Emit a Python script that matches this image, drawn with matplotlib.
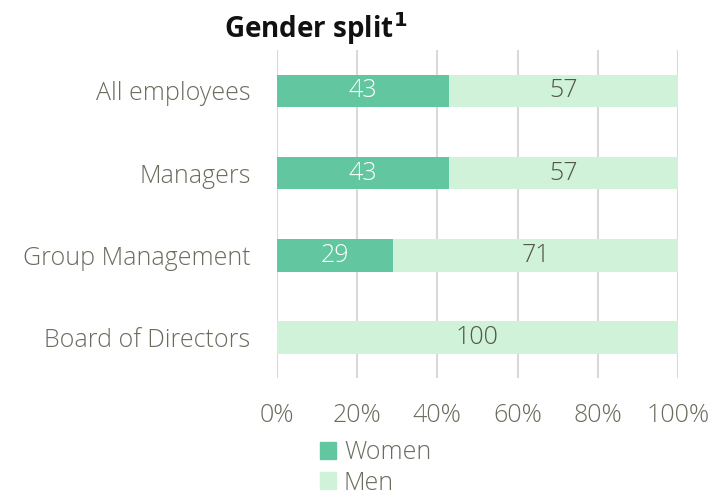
import matplotlib
matplotlib.use("Agg")
from matplotlib import pyplot as plt
from matplotlib.patches import Patch

# data
categories = ["All employees", "Managers", "Group Management", "Board of Directors"]
women = [43, 43, 29, 0]
men = [57, 57, 71, 100]
ticks = [0, 20, 40, 60, 80, 100]
tick_labels = ["0%", "20%", "40%", "60%", "80%", "100%"]

c_women = "#62c6a0"
c_men = "#cff2d9"
c_text = "#6b6b5e"

plt.rcParams["font.family"] = ["Open Sans", "DejaVu Sans"]

fig = plt.figure(figsize=(7.1, 4.99), dpi=100)
ax = fig.add_axes([0.390, 0.242, 0.565, 0.658])

y = range(len(categories))
ax.barh(y, women, height=0.4, color=c_women, zorder=2)
ax.barh(y, men, left=women, height=0.4, color=c_men, zorder=2)

# value labels
for i in y:
    if women[i] > 0:
        ax.text(women[i] / 2, i, str(women[i]), ha="center", va="center",
                color="white", fontsize=18, fontweight="light")
    if men[i] > 0:
        ax.text(women[i] + men[i] / 2, i, str(men[i]), ha="center", va="center",
                color="#555548", fontsize=18, fontweight="light")

ax.set_xlim(0, 100)
ax.set_ylim(3.5, -0.5)
ax.set_xticks(ticks)
ax.set_xticklabels(tick_labels)
ax.set_yticks(list(y))
ax.set_yticklabels(categories)
ax.tick_params(axis="x", length=0, pad=17.5, labelsize=18, labelcolor=c_text)
ax.tick_params(axis="y", length=0, pad=19, labelsize=18, labelcolor=c_text)
for lab in ax.get_xticklabels() + ax.get_yticklabels():
    lab.set_fontweight("light")

for s in ax.spines.values():
    s.set_visible(False)
ax.grid(axis="x", color="#d9d9d9", linewidth=1.5, zorder=0)

fig.text(0.444, 0.943, "Gender split$^\\mathbf{1}$", ha="center", va="center",
         fontsize=20, fontweight="bold", color="#111111")

handles = [Patch(color=c_women, label="Women"), Patch(color=c_men, label="Men")]
leg = fig.legend(handles=handles, loc="upper left", bbox_to_anchor=(0.451, 0.118),
                 frameon=False, fontsize=18, handlelength=0.65, handleheight=0.65,
                 handletextpad=0.3, labelspacing=0.22, borderpad=0, borderaxespad=0)
for t in leg.get_texts():
    t.set_color(c_text)
    t.set_fontweight("light")

fig.savefig("out.png", dpi=100)
